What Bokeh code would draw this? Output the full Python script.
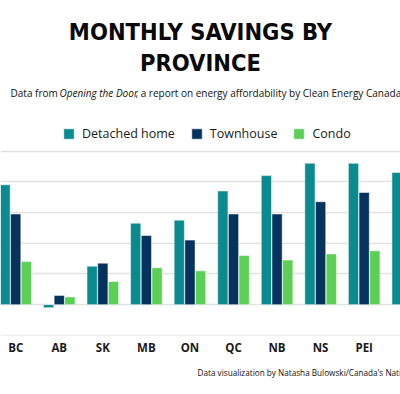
from bokeh.plotting import figure
from bokeh.models import (Label, Legend, LegendItem, FixedTicker, Range1d,
                          ColumnDataSource, Title)
from bokeh.transform import dodge
from bokeh.embed import file_html
from bokeh.resources import INLINE

nan = float("nan")
provinces = ["BC", "AB", "SK", "MB", "ON", "QC", "NB", "NS", "PEI", "NL"]
detached = [78, -2, 25, 53, 55, 74, 84, 92, 92, 86]
townhouse = [59, 6, 27, 45, 42, 59, 59, 67, 73, nan]
condo = [28, 5, 15, 24, 22, 32, 29, 33, 35, nan]
y_ticks = [-20, 0, 20, 40, 60, 80, 100]

xs = list(range(len(provinces)))
src = ColumnDataSource(dict(x=xs, detached=detached, townhouse=townhouse, condo=condo))

p = figure(width=400, height=394, output_backend="svg", toolbar_location=None,
           x_range=Range1d(-0.349, 8.834), y_range=Range1d(-20.1, 198),
           min_border_top=0, min_border_bottom=59, min_border_left=0,
           min_border_right=0)
p.outline_line_color = None

cols = {"detached": "#0b8a8f", "townhouse": "#06325e", "condo": "#5ccf55"}
w = 0.235
r1 = p.vbar(x=dodge("x", -0.245, range=p.x_range), top="detached", width=w, source=src,
            fill_color=cols["detached"], line_color="white", line_alpha=0.5, line_width=1)
r2 = p.vbar(x=dodge("x", 0.0, range=p.x_range), top="townhouse", width=w, source=src,
            fill_color=cols["townhouse"], line_color="white", line_alpha=0.5, line_width=1)
r3 = p.vbar(x=dodge("x", 0.245, range=p.x_range), top="condo", width=w, source=src,
            fill_color=cols["condo"], line_color="white", line_alpha=0.5, line_width=1)

p.yaxis.visible = False
p.ygrid.ticker = FixedTicker(ticks=y_ticks)
p.ygrid.grid_line_color = "#e2e2e2"
p.ygrid.grid_line_width = 1.5
p.xgrid.grid_line_color = None

p.xaxis.ticker = FixedTicker(ticks=xs)
p.xaxis.major_label_overrides = {i: n for i, n in enumerate(provinces)}
p.xaxis.axis_line_color = None
p.xaxis.major_tick_line_color = None
p.xaxis.minor_tick_line_color = None
p.xaxis.major_tick_out = 0
p.xaxis.major_tick_in = 0
p.xaxis.major_label_standoff = 4
p.xaxis.major_label_text_font = "Open Sans"
p.xaxis.major_label_text_font_style = "bold"
p.xaxis.major_label_text_font_size = "11.5px"
p.xaxis.major_label_text_color = "#1a1a1a"

legend = Legend(items=[LegendItem(label="Detached home", renderers=[r1]),
                       LegendItem(label="Townhouse", renderers=[r2]),
                       LegendItem(label="Condo", renderers=[r3])],
                orientation="horizontal", location=(62, 193),
                glyph_width=13, glyph_height=13, label_standoff=7, spacing=15,
                padding=0, margin=0, label_height=13,
                border_line_alpha=0, background_fill_alpha=0,
                label_text_font="Open Sans", label_text_font_size="12.5px",
                label_text_color="#1a1a1a", label_text_baseline="middle")
p.add_layout(legend, "center")

for txt, yy in [("MONTHLY SAVINGS BY", 304), ("PROVINCE", 273)]:
    p.add_layout(Label(x=200, y=yy, x_units="screen", y_units="screen", text=txt,
                       text_align="center", text_baseline="alphabetic",
                       text_font="DejaVu Sans Condensed", text_font_style="bold",
                       text_font_size="23.5px", text_color="#0a0a0a"))

sub_font = "Open Sans"
sub_size = "10px"
p.add_layout(Label(x=10, y=243, x_units="screen", y_units="screen", text="Data from ",
                   text_baseline="alphabetic", text_font=sub_font, text_font_size=sub_size,
                   text_color="#111111"))
p.add_layout(Label(x=59, y=243, x_units="screen", y_units="screen", text="Opening the Door",
                   text_baseline="alphabetic", text_font=sub_font, text_font_style="italic",
                   text_font_size=sub_size, text_color="#111111"))
p.add_layout(Label(x=135, y=243, x_units="screen", y_units="screen",
                   text=", a report on energy affordability by Clean Energy Canada",
                   text_baseline="alphabetic", text_font=sub_font, text_font_size=sub_size,
                   text_color="#111111"))

p.add_layout(Title(text="Data visualization by Natasha Bulowski/Canada's National Observer",
                   align="left", offset=197, text_font=sub_font, text_font_size="8.2px",
                   text_font_style="normal", text_color="#111111", standoff=14),
             "below")

open("out.html", "w").write(file_html(p, INLINE))
